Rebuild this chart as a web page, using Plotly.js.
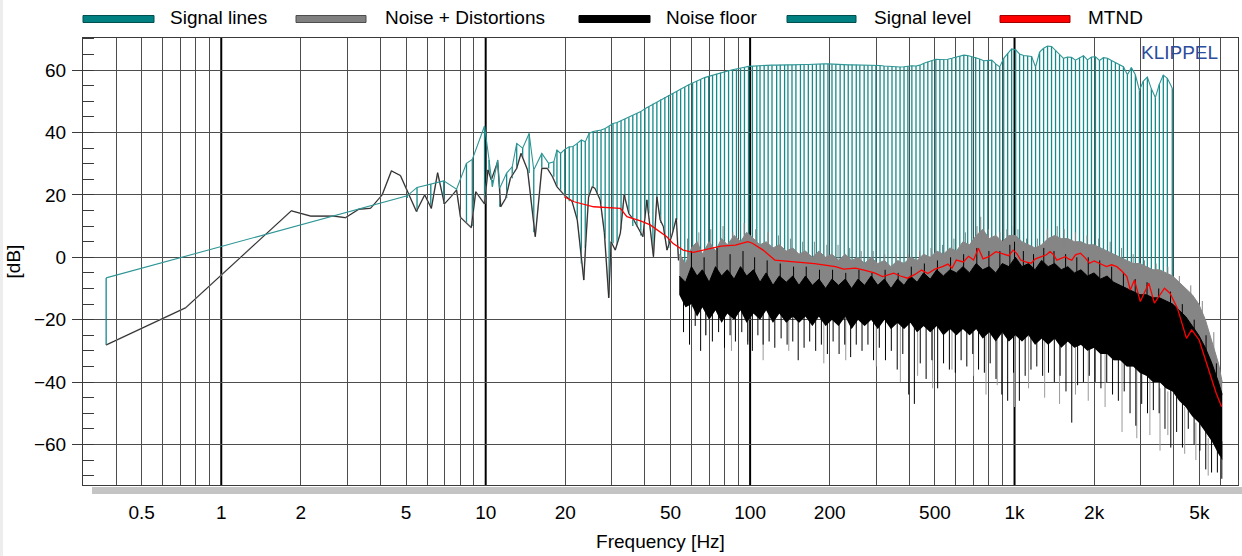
<!DOCTYPE html>
<html><head><meta charset="utf-8">
<script src="https://cdn.plot.ly/plotly-3.0.1.min.js"></script>
<style>html,body{margin:0;padding:0;background:#fff;}#chart{width:1242px;height:556px;}</style>
</head><body><div id="chart"></div>
<script>
// ---------------- data ----------------
const toneF = [0.367,5.05,5.5,6.2,6.94,7.76,8.46,8.9,9.9,10.3,10.6,11.1,11.3,12.0,12.6,13.1,13.8,14.6,15.2,16.3,17.3,18.1,18.6,19.2,19.9,
 20.7,21.4,22.2,23.0,23.8,24.6,25.5,26.4,27.3,28.3,29.3,30.3,31.4,32.5,33.6,34.8,36.0,37.3,38.6,40.0,41.4,42.9,44.4,45.9,47.6,49.2,51.0,52.8,54.6,56.6,
 58.6,60.6,62.8,65.0,67.3,69.7,72.1,74.7,77.3,80.0,82.9,85.8,88.8,92.0,95.2,98.6,102,106,109,113,117,121,126,130,135,139,144,149,155,160,
 166,172,178,184,190,197,204,211,219,227,235,243,252,260,270,279,289,299,310,321,332,344,356,369,382,395,409,424,439,454,
 470,487,504,522,540,559,579,600,621,643,665,689,713,738,765,792,820,849,879,910,942,975,1010,1045,1082,1121,1160,1201,1244,1288,
 1333,1380,1429,1480,1532,1586,1642,1700,1761,1823,1887,1954,2023,2095,2169,2246,2325,2407,2492,2581,2672,2766,2864,2966,3070,3179,3292,3408,3529,3653,3783,3950];
const toneLevel = [-6.6,19.7,22.4,23.5,24.5,21.8,30.1,31.4,42.1,31.2,22.6,31.2,22.1,27,29,36.5,35,39.7,28,33.3,30.1,30.6,34.4,33.3,34.6,
 35.4,35.5,36.5,37.6,37,39.7,40.3,40.5,40.8,41.3,42,42.9,43.2,43.8,44.3,44.8,45.5,46.2,46.7,47.6,48.3,49.2,49.8,50.6,51.3,52,52.7,53.3,54,54.6,
 55.3,55.9,56.5,57.1,57.6,58,58.4,58.8,59.2,59.5,59.8,60.1,60.3,60.6,60.9,61.2,61.3,61.4,61.5,61.5,61.6,61.6,61.6,61.7,61.7,61.7,61.7,61.8,61.8,61.8,
 61.8,61.9,61.9,62,62,62,61.9,61.9,61.8,61.8,61.7,61.7,61.7,61.6,61.6,61.6,61.6,61.6,61.5,61.3,61.2,61.1,61.1,61.0,61.1,61.3,61.4,61.3,61.6,62.2,
 62.7,63.2,63.5,63.4,63.4,63.5,63.8,64.2,64.5,64.8,64.7,64.3,64.1,63.6,63,63.1,63.2,62,61,63.8,65.5,66.8,66.5,65.2,64.7,64.6,64.4,61,65.8,67,
 67.7,67.6,66.3,65,63.8,64.2,64.1,63.2,64,64.6,63.3,64.2,64.3,63.1,64,63.8,63.1,62.4,61.6,61.1,58.5,60.8,58.5,53.5,56.5,57.8,54,51.2,55.5,58.4,57.4,54.2];
const toneBase = [-28.1,19,14.6,15.7,17.1,21.6,11,10,17.1,27,24.8,30.6,16.2,19,25.3,28.5,32,27,8,28.5,28.5,25.8,22.6,21,20,
 18,18,12,-2,3,19.4,22.4,20,17,6,-12,4.5,4,9,19,14,10,9.8,7,13,14,2,19,11,6,3,8,12,-3,
 -14,-9,-16,-7,-12,-8,-11,-6,-10,-8,-9,-7,-11,-6,-9,-8,-10,-7,-9,-6,-10,-8,-11,-7,-9,-8,-10,-7,-11,-8,
 -9,-7,-10,-8,-11,-7,-9,-8,-10,-7,-11,-8,-9,-7,-10,-8,-11,-7,-9,-8,-10,-7,-9,-6,-8,-7,-9,-6,-8,-5,
 -7,-6,-8,-5,-7,-4,-6,-5,-7,-4,-6,-5,-7,-5,-6,-4,-7,-5,-6,-4,-6,-5,-7,-5,-6,-4,-7,-5,-6,-5,
 -7,-5,-6,-4,-7,-5,-6,-5,-7,-6,-8,-6,-7,-6,-8,-7,-9,-7,-8,-7,-9,-8,-10,-9,-10,-9,-11,-10,-11,-10,-12,-11,-12];

// low-frequency spectrum (drawn as a line)
const specF = [0.367,0.733,1.84,2.18,2.67,2.95,3.31,3.67,4.06,4.40,4.76,5.12,5.47,5.88,6.23,6.58,6.98,7.39,7.76,8.03,8.82,9.17,9.9,10.2,10.5,11.1,11.4,11.9,12.4,13.1,
 13.6,14.4,15.4,16.3,17.1,17.9,18.6,19.8,21.2,22.2,23.2,23.5,23.9,24.5,25.3,25.9,27.1,28.1,29.2,29.8,30.9,32.3,33.4,34.8,36.3,37.6,39.3,40.7,42.3,43.1,44.4,45.7,47.0,48.5,50.6,52.6,53.6];
const specDb = [-28.1,-16.2,14.9,13.2,13.2,12.7,15.4,15.7,20.0,27.7,26.2,20,14.7,20,15.7,27.1,17.1,19.4,21.6,12.8,9.5,21.0,17.1,28,24.8,30.6,16.2,18.9,25.3,28.5,
 33.3,28,6.6,28.5,28.5,25.8,22.6,20,18,12,-4,-7.3,4.5,19.4,22.6,22.1,18.4,8,-13,5,2.3,7.7,20,14,12,9.8,6.6,18.4,5,0.2,19.4,12,9.8,2.3,7,12.5,-1];

// dense noise region envelopes
const noiseF = [54,57,60,63,66,70,74,78,82,87,92,97,103,109,115,122,129,137,145,153,162,172,182,193,204,216,229,242,256,271,287,304,322,341,361,382,404,428,453,480,
 508,538,570,603,638,676,716,758,802,849,899,952,1008,1067,1130,1196,1266,1340,1419,1502,1590,1684,1783,1887,1998,2115,2239,2371,2510,2657,2813,2978,3153,3338,3534,3741,3961,4193,4439,4700,4975,5267,5576,5903,6100];
const distTop = [1,-2,3,5,1,5,2,6,4,7,5,8,6,4,5,3,4,2,3,1,2,0,2,0,1,-1,1,-1,0,-2,0,-2,-1,-3,-1,-2,0,-1,1,0,
 2,1,3,2,5,4,7,9,6,7,5,7,7,5,4,3,4,6,7,6,6,5,5,4,4,3,2,1,0,-1,-2,-2,-3,-4,-4,-5,-6,-8,-10,-12,-15,-20,-27,-34,-40];
const floorTop = [-6,-8,-3,-6,-4,-8,-3,-6,-4,-7,-3,-6,-4,-8,-5,-9,-6,-8,-6,-9,-6,-9,-7,-10,-7,-9,-7,-10,-7,-9,-6,-9,-7,-10,-7,-9,-6,-8,-5,-7,
 -4,-6,-4,-5,-3,-5,-2,-4,-3,-5,-2,-3,0,-3,-2,-4,-1,-3,-2,-4,-3,-5,-4,-6,-5,-7,-6,-8,-9,-10,-11,-12,-12,-13,-13,-14,-15,-17,-19,-22,-25,-29,-34,-40,-44];
const floorBottom = [-12,-16,-15,-19,-16,-20,-17,-21,-18,-20,-17,-21,-18,-20,-17,-21,-18,-21,-19,-21,-19,-22,-19,-22,-20,-22,-19,-23,-20,-22,-20,-23,-20,-23,-21,-23,-21,-24,-22,-24,
 -22,-25,-23,-25,-23,-25,-23,-26,-24,-27,-24,-27,-25,-27,-25,-28,-26,-28,-26,-29,-27,-29,-28,-30,-29,-31,-31,-33,-33,-35,-35,-37,-38,-40,-40,-42,-43,-46,-48,-51,-53,-56,-59,-63,-65];

// downward hairlines of the noise floor
const floorDipF = [56,59,62,65,68,72,76,80,84,88, 93,98,102,107,112,118,124,131,138,145, 152,160,168,177,186,196,206,217,228,240,
 252,265,279,293,308,325,342,360,378,398, 418,440,463,487,512,539,567,597,628,660, 695,731,769,809,851,895,942,991,1043,1097,
 1154,1214,1277,1344,1414,1487,1565,1646,1732,1822, 1917,2017,2122,2232,2348,2470,2599,2734,2876,3026, 3183,3349,3523,3706,3899,4102,4315,4540,4776,5024, 5286,5561,5850,6080];
const floorDipLo = [-24,-28,-22,-30,-25,-27,-24,-29,-25,-27, -24,-28,-30,-25,-28,-27,-29,-26,-28,-27, -33,-29,-27,-30,-28,-31,-27,-31,-28,-32,
 -28,-30,-28,-33,-29,-33,-30,-36,-31,-44, -47,-34,-39,-33,-42,-34,-36,-37,-33,-35, -31,-36,-37,-34,-39,-44,-46,-37,-46,-38,
 -36,-35,-38,-37,-40,-38,-43,-53,-41,-40, -38,-40,-42,-40,-44,-46,-43,-50,-54,-47, -50,-49,-50,-55,-61,-56,-61,-55,-60,-62, -68,-69,-69,-71];
const floorDipHi = [-14,-14,-14,-14,-14,-15,-15,-15,-15,-15, -15,-16,-16,-16,-16,-17,-17,-17,-17,-17, -18,-18,-18,-18,-18,-18,-18,-19,-19,-19,
 -19,-19,-19,-19,-19,-20,-20,-20,-20,-20, -20,-21,-21,-21,-21,-21,-21,-22,-22,-22, -22,-22,-22,-23,-23,-23,-23,-23,-24,-24,
 -24,-24,-24,-25,-25,-25,-25,-26,-26,-26, -26,-27,-27,-28,-29,-30,-31,-32,-33,-34, -35,-36,-37,-38,-39,-41,-42,-44,-46,-48, -50,-53,-56,-59];
// upward hairlines of the noise floor
const floorUpF = [60,67,75,84,94,104,116,130,146,163, 183,205,230,258,289,324,363,407,456,511, 573,642,720,800,880,960,1000,1080,1180,1290,
 1410,1560,1720,1900,2100,2330,2580,2860,3170,3510, 3890,4310,4780,5300,5800];
const floorUpLo = [-8,-8,-8,-8,-8,-9,-9,-10,-10,-10, -10,-10,-11,-11,-11,-11,-11,-10,-9,-8, -7,-7,-6,-6,-6,-5,-4,-5,-5,-5,
 -5,-6,-6,-7,-7,-9,-11,-13,-14,-15, -17,-20,-27,-32,-43];
const floorUpHi = [2,0,3,1,2,0,-1,-2,-3,-3, -4,-4,-5,-4,-5,-4,-5,-3,-2,-1, 0,1,3,2,2,4,5,2,1,3,
 2,1,0,0,-1,-3,-5,-7,-8,-10, -11,-15,-20,-25,-34];
// hairlines of noise + distortions (down and up)
const distDipF = [68,85,98,112,140,190,230,300,370,430,490,580,700,780,860,1000,1130,1300,1480,1700,1900,2200,2550,2900,3250,3550,3800,4400,4850,5400];
const distDipLo = [-25,-30,-27,-33,-30,-34,-33,-35,-40,-38,-42,-36,-38,-44,-41,-48,-42,-45,-47,-44,-46,-48,-56,-58,-57,-62,-57,-63,-65,-70];
const distDipHi = [-14,-15,-16,-17,-18,-18,-19,-20,-21,-21,-22,-23,-23,-24,-24,-25,-25,-26,-27,-28,-29,-31,-33,-36,-39,-42,-43,-48,-53,-58];
const distUpF = [58,64,71,79,86,95,105,117,128,142, 158,175,195,215,238,263,292,323,357,395, 437,483,534,590,652,721,745,797,880,935,
 990,1030,1110,1220,1330,1450,1540,1700,1880,2080, 2300,2540,2810,3100,3430,3800,4200,4640,5130,5670];
const distUpLo = [0,1,2,3,2,4,3,2,1,0, -1,-1,-2,-2,-3,-3,-4,-4,-4,-4, -3,-2,-1,1,3,5,6,3,3,4,
 4,3,1,1,3,4,3,2,1,0, -1,-2,-3,-4,-5,-7,-10,-14,-20,-30];
const distUpHi = [6,8,9,10,8,11,9,8,7,6, 5,5,4,4,3,2,2,1,1,1, 2,3,4,6,8,10,13,9,8,9,
 10,9,6,6,9,10,9,8,7,6, 5,3,1,-1,-2,-3,-6,-9,-14,-24];

// MTND
const mtndF = [19.8,21.6,25.6,30.5,32.3,34.2,38.5,41.9,45.3,48.4, 51,55.8,61,66.6,72.8,77.6,88,98,102,112, 124,151,175,192,210,226,250,270,295,317,
 349,370,394,420,445,470,500,534,560,580, 602,640,670,700,730,760,800,850,909,950, 989,1020,1055,1100,1155,1200,1264,1320,1362,1400,
 1445,1500,1557,1600,1647,1700,1776,1850,1922,2000, 2094,2150,2226,2330,2436,2550,2660,2740,2842,2990, 3220,3380,3690,3870,4130,4470,4680,4990,5420,5790,6070];
const mtndDb = [19.4,17.8,16.2,16,15.7,13,11.7,10.4,8.2,6.6, 4.5,2.3,1.6,2.3,3.2,3.6,3.9,5,4.5,2.3, -0.9,-1.4,-2.0,-2.5,-3.0,-3.8,-3.5,-4.1,-5.0,-6.2,
 -5.1,-6.0,-6.7,-5.5,-4.1,-5.2,-3.8,-3,-2.2,-3.5, -0.9,-1.5,0.3,-0.9,2.9,-0.5,0.2,1.8,1.1,0.5, 2.3,1.2,-0.9,-1.5,-1.9,-0.5,0.2,0.8,1.8,1.0,
 -0.9,-0.3,0.2,-0.5,-0.9,0.8,1.3,-0.2,-1.9,-1.2, -1.9,-2.3,-3,-2.4,-3,-4.5,-6.2,-10.5,-7.3,-14.2, -8.3,-14.7,-9.9,-11.5,-16.3,-26,-23.3,-26.5,-36.1,-43.6,-47.9];

const xTickVals = [0.5,1,2,5,10,20,50,100,200,500,1000,2000,5000];
const xTickText = ['0.5','1','2','5','10','20','50','100','200','500','1k','2k','5k'];
const xGridVals = [0.4,0.5,0.6,0.7,0.8,0.9,2,3,4,5,6,7,8,9,20,30,40,50,60,70,80,90,200,300,400,500,600,700,800,900,2000,3000,4000,5000,6000,7000];
const decades = [1,10,100,1000];
const legendNames = ['Signal lines','Noise + Distortions','Noise floor','Signal level','MTND'];

// ---------------- build ----------------
function stems(f, lo, hi){ const x=[],y=[]; for(let i=0;i<f.length;i++){x.push(f[i],f[i],null);y.push(lo[i],hi[i],null);} return {x,y}; }
const TEAL='#008080', GRAY='#858585', RED='#ff0000';
const sig = stems(toneF, toneBase, toneLevel);
const fdn = stems(floorDipF, floorDipLo, floorDipHi);
const fup = stems(floorUpF, floorUpLo, floorUpHi);
const ddn = stems(distDipF, distDipLo, distDipHi);
const dup = stems(distUpF, distUpLo, distUpHi);
const base = {mode:'lines', hoverinfo:'skip', showlegend:false};
const T = o => Object.assign({}, base, o);
const traces = [
 T({x:sig.x, y:sig.y, line:{color:'rgb(20,138,138)', width:1.3}}),
 T({x:noiseF, y:floorBottom, line:{width:0, color:GRAY}}),
 T({x:noiseF, y:distTop, fill:'tonexty', fillcolor:GRAY, line:{color:GRAY, width:1}}),
 T({x:ddn.x, y:ddn.y, line:{color:'#999', width:1}}),
 T({x:dup.x, y:dup.y, line:{color:GRAY, width:1}}),
 T({x:specF, y:specDb, line:{color:'#a0a0a0', width:1.6}}),
 T({x:specF, y:specDb, line:{color:'#2a2a2a', width:1}}),
 T({x:noiseF, y:floorBottom, line:{width:0, color:'#000'}}),
 T({x:noiseF, y:floorTop, fill:'tonexty', fillcolor:'#000', line:{color:'#000', width:1}}),
 T({x:fdn.x, y:fdn.y, line:{color:'#000', width:1}}),
 T({x:fup.x, y:fup.y, line:{color:'#000', width:1}}),
 T({x:mtndF, y:mtndDb, line:{color:RED, width:1.3}}),
 T({x:toneF, y:toneLevel, line:{color:'#2f9595', width:1.1}})
];

const L=83, R=1238, TOP=38, B=485;
const PX = x => (x-L)/(R-L), PY = y => (B-y)/(B-TOP);
const FONT = 'Liberation Sans, Arial, sans-serif';
const legendSym = [[83,154],[296,366],[579,650],[787,856],[1000,1070]];
const legendTxt = [168,383,664,872,1086];
const legendFill = [TEAL,'#808080','#000000',TEAL,RED];
const legendEdge = ['#004f4f','#4d4d4d','#000000','#004f4f','#a00000'];

const shapes = [];
decades.forEach(d => shapes.push({type:'line', xref:'x', yref:'paper', x0:d, x1:d, y0:0, y1:1, layer:'below', line:{color:'#000', width:2}}));
shapes.push({type:'rect', xref:'paper', yref:'paper', x0:PX(92), x1:PX(1242), y0:PY(494), y1:PY(487), fillcolor:'#c4c4c4', line:{width:0}});
shapes.push({type:'rect', xref:'paper', yref:'paper', x0:PX(0), x1:PX(3), y0:PY(556), y1:PY(0), fillcolor:'#ededed', line:{width:0}});
const annotations = [];
legendNames.forEach((n,i) => {
  shapes.push({type:'rect', xref:'paper', yref:'paper', x0:PX(legendSym[i][0]), x1:PX(legendSym[i][1]), y0:PY(22.5), y1:PY(15.5), fillcolor:legendFill[i], line:{color:legendEdge[i], width:1}});
  annotations.push({xref:'paper', yref:'paper', x:PX(legendTxt[i]), y:PY(17.5), xanchor:'left', yanchor:'middle', showarrow:false, text:n, font:{family:FONT, size:19, color:'#000'}});
});
annotations.push({xref:'paper', yref:'paper', x:PX(1220), y:PY(53), xanchor:'right', yanchor:'middle', showarrow:false, text:'KLIPPEL', font:{family:FONT, size:19, color:'#2d4c9c'}});

const layout = {
  width:1242, height:556, margin:{l:L, r:1242-R, t:TOP, b:556-B},
  paper_bgcolor:'#fff', plot_bgcolor:'#fff', hovermode:false, showlegend:false,
  font:{family:FONT, size:19, color:'#000'},
  xaxis:{type:'log', range:[Math.log10(0.3), Math.log10(7000)], tickmode:'array', tickvals:xTickVals, ticktext:xTickText,
    ticks:'', showgrid:false, zeroline:false, showline:true, linecolor:'#3a3a3a', linewidth:1, mirror:true,
    ticklabelstandoff:10, tickfont:{size:19},
    minor:{tickmode:'array', tickvals:xGridVals, showgrid:true, gridcolor:'#4d4d4d', gridwidth:1, ticks:'inside', ticklen:5, tickcolor:'#4d4d4d'},
    title:{text:'Frequency [Hz]', standoff:12, font:{size:19}}},
  yaxis:{range:[-73,70.3], tick0:0, dtick:20, ticks:'outside', ticklen:10, tickcolor:'#3a3a3a', tickwidth:1,
    showgrid:true, gridcolor:'#4d4d4d', gridwidth:1, zeroline:false, showline:true, linecolor:'#3a3a3a', linewidth:1, mirror:true,
    tickfont:{size:19}, ticklabelstandoff:2,
    minor:{dtick:5, tick0:0, ticks:'inside', ticklen:11, tickcolor:'#3a3a3a', showgrid:false},
    title:{text:'[dB]', standoff:8, font:{size:19}}},
  shapes, annotations
};
Plotly.newPlot('chart', traces, layout, {staticPlot:true, displayModeBar:false});
</script></body></html>
